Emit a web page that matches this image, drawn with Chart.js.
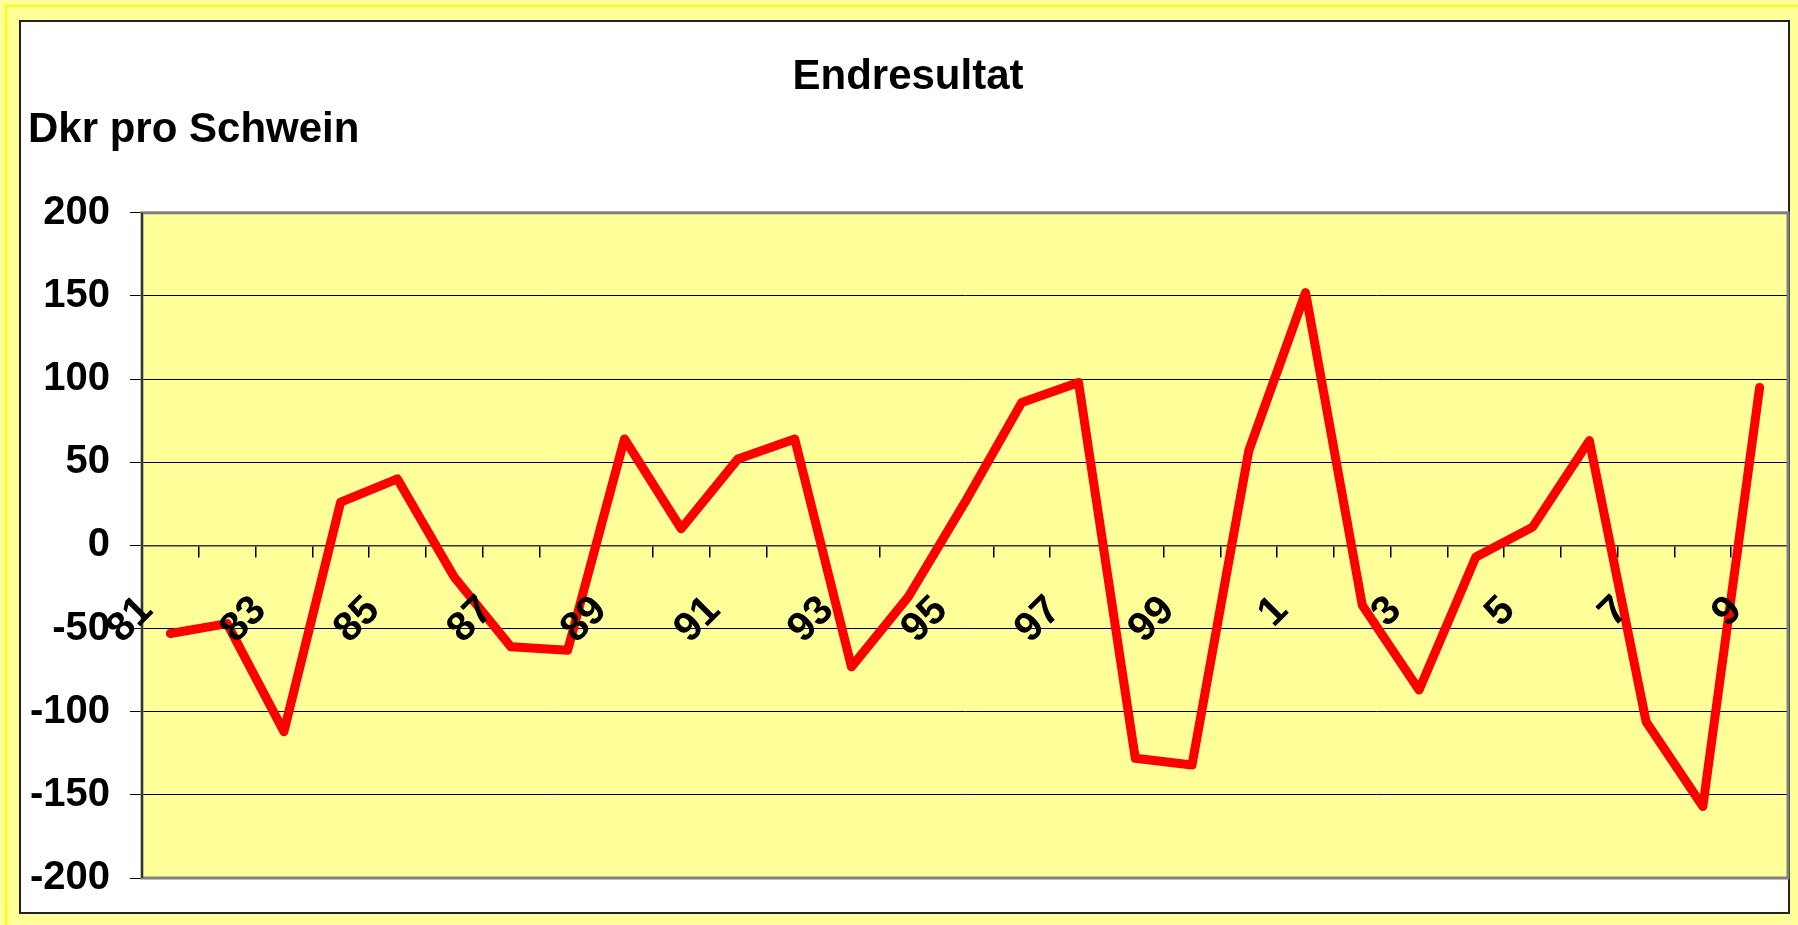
<!DOCTYPE html>
<html>
<head>
<meta charset="utf-8">
<script src="https://cdn.jsdelivr.net/npm/chart.js@4.4.1/dist/chart.umd.min.js"></script>
<style>
  html, body { margin: 0; padding: 0; background: #FFFF99; width: 1798px; height: 925px; overflow: hidden; }
  #frame { position: absolute; left: 5px; top: 5px; width: 1830px; height: 960px; border-left: 2px solid #FFFF00; border-top: 2px solid #FFFF00; }
  #box { position: absolute; left: 19px; top: 20px; width: 1767px; height: 890px; background: #FFFFFF; border: 2px solid #222222; }
  #c { position: absolute; left: 0; top: 0; }
</style>
</head>
<body>
<div id="frame"></div>
<div id="box"></div>
<canvas id="c" width="1798" height="925"></canvas>
<script>
const categories = ["81","82","83","84","85","86","87","88","89","90","91","92","93","94","95","96","97","98","99","0","1","2","3","4","5","6","7","8","9"];
const endresultat = [-53, -47, -112, 26, 40, -19, -61, -63, 64, 10, 52, 64, -73, -31, 26, 86, 98, -128, -132, 57, 152, -36, -87, -7, 11, 63, -106, -157, 95];
const yTicks = [-200, -150, -100, -50, 0, 50, 100, 150, 200];
const chartTitle = "Endresultat";
const axisTitle = "Dkr pro Schwein";

const FONT = '"Liberation Sans", Arial, sans-serif';

const plotArea = {
  id: 'plotArea',
  beforeDraw(chart) {
    const {ctx, chartArea: a} = chart;
    ctx.save();
    ctx.fillStyle = '#FFFF99';
    ctx.fillRect(a.left, a.top, a.right - a.left, a.bottom - a.top);
    ctx.restore();
  },
  beforeDatasetsDraw(chart) {
    const {ctx, chartArea: a} = chart;
    ctx.save();
    ctx.strokeStyle = '#808080';
    ctx.lineWidth = 3;
    ctx.strokeRect(a.left, a.top, a.right - a.left, a.bottom - a.top);
    ctx.strokeStyle = '#333333';
    ctx.lineWidth = 2;
    ctx.beginPath();
    ctx.moveTo(a.left, a.top);
    ctx.lineTo(a.left, a.bottom);
    ctx.stroke();
    ctx.restore();
  }
};

new Chart(document.getElementById('c'), {
  type: 'line',
  data: {
    labels: categories,
    datasets: [{
      label: chartTitle,
      data: endresultat,
      borderColor: '#FF0000',
      borderWidth: 9,
      borderJoinStyle: 'round',
      borderCapStyle: 'round',
      pointRadius: 0,
      tension: 0,
      fill: false
    }]
  },
  options: {
    responsive: false,
    animation: false,
    devicePixelRatio: 1,
    layout: { padding: { left: 28, right: 10, top: 20, bottom: 47 } },
    plugins: {
      legend: { display: false },
      tooltip: { enabled: false },
      title: {
        display: true,
        text: chartTitle,
        color: '#000000',
        font: { family: FONT, size: 42, weight: 'bold', lineHeight: 1.2 },
        padding: { top: 32, bottom: 0 }
      },
      subtitle: {
        display: true,
        text: axisTitle,
        align: 'start',
        color: '#000000',
        font: { family: FONT, size: 42, weight: 'bold', lineHeight: 1.2 },
        padding: { top: 3, bottom: 57 }
      }
    },
    scales: {
      x: {
        type: 'category',
        position: { y: 0 },
        offset: true,
        afterFit(scale) { scale.paddingLeft = 0; scale.paddingRight = 0; scale.paddingTop = 0; scale.paddingBottom = 0; },
        grid: {
          offset: true,
          drawOnChartArea: false,
          drawTicks: true,
          tickLength: 11,
          tickColor: '#000000',
          lineWidth: 1.5
        },
        border: { display: true, color: '#333333', width: 1.5 },
        ticks: {
          z: 1,
          autoSkip: false,
          maxRotation: 45,
          minRotation: 45,
          padding: 30,
          labelOffset: -24,
          color: '#000000',
          font: { family: FONT, size: 41, weight: 'bold', lineHeight: 1.2 },
          callback: function(value, index) { return index % 2 === 0 ? categories[index] : ''; }
        }
      },
      y: {
        min: -200,
        max: 200,
        afterBuildTicks(scale) { scale.ticks = yTicks.map(v => ({ value: v })); },
        afterFit(scale) { scale.width = 114; },
        grid: {
          color: '#000000',
          lineWidth: 1,
          drawTicks: true,
          tickLength: 12,
          tickColor: '#000000'
        },
        border: { display: true, color: '#333333', width: 2 },
        ticks: {
          padding: 20,
          color: '#000000',
          font: { family: FONT, size: 40, weight: 'bold', lineHeight: 1.2 }
        }
      }
    }
  },
  plugins: [plotArea]
});
</script>
</body>
</html>
